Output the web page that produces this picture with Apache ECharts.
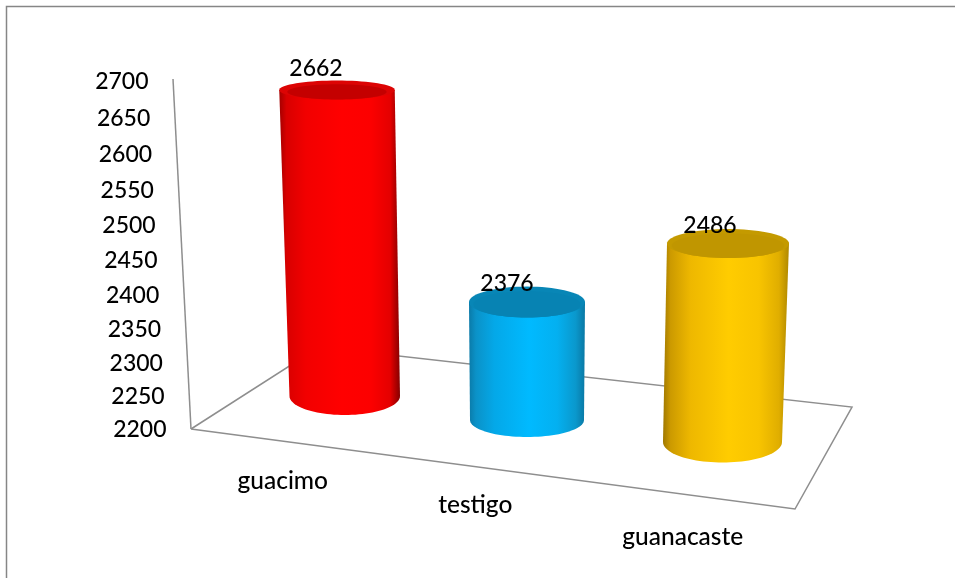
<!DOCTYPE html>
<html>
<head>
<meta charset="utf-8">
<style>html,body{margin:0;padding:0;background:#fff}#c{width:955px;height:578px}</style>
<script src="https://cdn.jsdelivr.net/npm/echarts@6/dist/echarts.min.js"></script>
</head>
<body>
<div id="c"></div>
<script>
const categories = ['guacimo', 'testigo', 'guanacaste'];
const values = [2662, 2376, 2486];
const tickValues = [2200, 2250, 2300, 2350, 2400, 2450, 2500, 2550, 2600, 2650, 2700];

// Perspective look of the 3D box (view styling, not data)
const AXIS_MIN = 2200, AXIS_MAX = 2700;
const GRID_TOP = 81, GRID_H = 348, GRID_BOTTOM_Y = GRID_TOP + GRID_H;
const columnDx = [0, -5.25, 2.75];
const baseShape = [ // rx, cy, ry at the floor
  [55.25, 396, 19], [57, 420, 17], [59.5, 442, 20.5]
];
const leanShape = [ // change of cx, rx, cy, ry over the full axis height
  [-8.4, 2.7, -331.2, -10.3], [0, 2.84, -335, -4.3], [9.6, 2.6, -347, -10.5]
];
const catLabelPos = [[-62, 481], [-57, 505], [-37, 537]];
const valueLabelOffset = [[-21, -21.5], [-20, -19], [-18, -18]];
const palettes = [
  {body: ['#a40000','#d80000','#f20000','#ff0000','#fc0000','#e40000','#840000'], rim: '#dc0404', top: '#c40000'},
  {body: ['#0a7aa8','#0b92c8','#04a8e8','#00baff','#04b0f0','#0a98cc','#0a78a4'], rim: '#0886b6', top: '#0783b3'},
  {body: ['#a07800','#cc9a00','#eeb800','#ffcc00','#f8c400','#e0ae00','#b08800'], rim: '#c49a00', top: '#c09600'}
];
const bodyStops = [0, 0.06, 0.22, 0.52, 0.76, 0.92, 1];
const topInnerScale = [[0.86, 0.8], [0.92, 0.85], [0.92, 0.85]];
const floorCorners = [[191, 429], [795, 509], [852, 407], [319, 347], [191, 429]];
const frameLine = [[6.5, 578], [6.5, 6.5], [955, 6.5]];
const GREY = '#8e8e8e';
const TICK_FONT = '500 23px Lato', CAT_FONT = '500 24.5px Lato';

function fraction(py) { return (GRID_BOTTOM_Y - py) / GRID_H; }
function warpY(t) { return GRID_BOTTOM_Y - 328.6 * t / (1 - 0.0559 * t); }
function wallX(t) { return 191 - 18 * t; }

function ellipsePts(cx, cy, rx, ry, a0, a1, n) {
  const pts = [];
  for (let k = 0; k <= n; k++) {
    const a = a0 + (a1 - a0) * k / n;
    pts.push([cx + rx * Math.cos(a), cy + ry * Math.sin(a)]);
  }
  return pts;
}

function renderColumn(params, api) {
  const i = api.value(0), v = api.value(1);
  const p = api.coord([i, v]);
  const p0 = api.coord([i, AXIS_MIN]);
  const t = fraction(p[1]);
  const b = baseShape[i], l = leanShape[i], pal = palettes[i];
  const cx0 = p0[0] + columnDx[i], rx0 = b[0], cy0 = b[1], ry0 = b[2];
  const cx1 = cx0 + l[0] * t, rx1 = rx0 + l[1] * t, cy1 = cy0 + l[2] * t, ry1 = ry0 + l[3] * t;
  const bodyPts = [[cx1 - rx1, cy1]]
    .concat(ellipsePts(cx0, cy0, rx0, ry0, Math.PI, 0, 48))
    .concat([[cx1 + rx1, cy1]]);
  const fill = new echarts.graphic.LinearGradient(0, 0, 1, 0,
    bodyStops.map((o, k) => ({offset: o, color: pal.body[k]})));
  const s = topInnerScale[i];
  return {
    type: 'group',
    children: [
      {type: 'polygon', shape: {points: bodyPts}, style: {fill: fill}},
      {type: 'polygon', shape: {points: ellipsePts(cx1, cy1, rx1, ry1, 0, Math.PI * 2, 72)}, style: {fill: pal.rim}},
      {type: 'polygon', shape: {points: ellipsePts(cx1, cy1 + ry1 * (1 - s[1]), rx1 * s[0], ry1 * s[1], 0, Math.PI * 2, 72)}, style: {fill: pal.top}},
      {type: 'text', z2: 10, style: {text: String(v), x: cx1 + valueLabelOffset[i][0], y: cy1 + valueLabelOffset[i][1],
        align: 'center', verticalAlign: 'middle', font: TICK_FONT, fill: '#000'}},
      {type: 'text', z2: 10, style: {text: categories[i], x: p0[0] + catLabelPos[i][0], y: catLabelPos[i][1],
        align: 'center', verticalAlign: 'middle', font: CAT_FONT, fill: '#000'}}
    ]
  };
}

function renderTick(params, api) {
  const v = api.value(1);
  const t = fraction(api.coord([0, v])[1]);
  return {type: 'text', style: {text: String(v), x: wallX(t) - 24.5, y: warpY(t) + 1, align: 'right', verticalAlign: 'middle',
    font: TICK_FONT, fill: '#000'}};
}

function renderWall(params, api) {
  const a = fraction(api.coord([0, AXIS_MIN])[1]);
  const c = fraction(api.coord([0, AXIS_MAX])[1]);
  return {type: 'line', shape: {x1: wallX(a), y1: warpY(a), x2: wallX(c), y2: warpY(c) - 2},
    style: {stroke: GREY, lineWidth: 1.5}};
}

const chart = echarts.init(document.getElementById('c'), null, {renderer: 'canvas'});
chart.setOption({
  animation: false,
  backgroundColor: '#fff',
  grid: {left: 251, width: 562.5, top: GRID_TOP, height: GRID_H},
  xAxis: {type: 'category', data: categories, show: false},
  yAxis: {type: 'value', min: AXIS_MIN, max: AXIS_MAX, interval: 50, show: false},
  tooltip: {show: false},
  graphic: [
    {type: 'polyline', z: 0, shape: {points: frameLine}, style: {stroke: '#868686', lineWidth: 1.5, fill: null}},
    {type: 'polyline', z: 0, shape: {points: floorCorners}, style: {stroke: GREY, lineWidth: 1.5, fill: null}}
  ],
  series: [
    {type: 'custom', z: 1, renderItem: renderWall, data: [[0, AXIS_MAX]], encode: {x: 0, y: 1}, silent: true},
    {type: 'custom', z: 2, renderItem: renderTick, data: tickValues.map(v => [0, v]), encode: {x: 0, y: 1}, silent: true},
    {type: 'custom', z: 3, renderItem: renderColumn, data: values.map((v, i) => [i, v]), encode: {x: 0, y: 1}, silent: true}
  ]
});
</script>
</body>
</html>
